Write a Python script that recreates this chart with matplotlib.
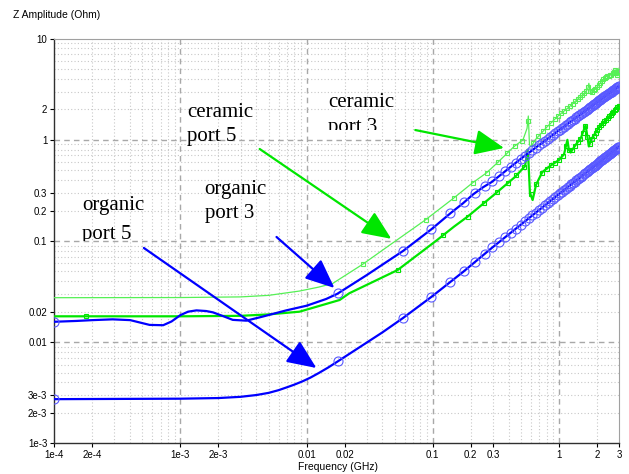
import numpy as np
import matplotlib
matplotlib.use("Agg")
import matplotlib.pyplot as plt
from matplotlib.transforms import Bbox, TransformedBbox

# ---- impedance data (frequency in GHz, |Z| in Ohm) ----
f_org5 = [1e-4, 1e-3, 2e-3, 3e-3, 4e-3, 5e-3, 6e-3, 7e-3, 8e-3, 9.3e-3,
          0.0107, 0.0125, 0.0148, 0.0175, 0.022, 0.03, 0.04, 0.0585, 0.098, 0.174,
          0.294, 0.5, 1.0, 2.0, 3.0]
z_org5 = [2.73e-3, 2.76e-3, 2.8e-3, 2.88e-3, 3.0e-3, 3.15e-3, 3.35e-3, 3.58e-3, 3.8e-3, 4.1e-3,
          4.45e-3, 4.95e-3, 5.6e-3, 6.4e-3, 7.7e-3, 9.9e-3, 0.0125, 0.0174, 0.0281, 0.0494,
          0.0853, 0.145, 0.29, 0.575, 0.86]

f_org3 = [1e-4, 1.5e-4, 2e-4, 2.9e-4, 4e-4, 5.7e-4, 7.3e-4, 8.5e-4, 1e-3, 1.15e-3,
          1.34e-3, 1.6e-3, 1.81e-3, 2.2e-3, 2.6e-3, 3.33e-3, 4.5e-3, 6.9e-3, 0.01, 0.0143,
          0.0175, 0.03, 0.0585, 0.098, 0.139, 0.174, 0.21, 0.251, 0.294, 0.5,
          1.0, 2.0, 3.0]
z_org3 = [0.0159, 0.0162, 0.0165, 0.0168, 0.0165, 0.0148, 0.0147, 0.0160, 0.0185, 0.0200,
          0.0206, 0.0203, 0.0197, 0.0180, 0.0166, 0.0163, 0.0179, 0.0206, 0.0229, 0.0267,
          0.030, 0.046, 0.080, 0.131, 0.189, 0.236, 0.29, 0.34, 0.383, 0.65,
          1.24, 2.35, 3.4]

f_cer5 = [1e-4, 1e-3, 3e-3, 5e-3, 8.8e-3, 0.0125, 0.0161, 0.0279, 0.045, 0.0866,
          0.146, 0.205, 0.268, 0.326, 0.441, 0.52, 0.56, 0.573, 0.585, 0.6,
          0.65, 0.81, 1.0, 1.2, 1.4, 1.6, 1.7, 1.73, 1.78, 2.0,
          2.34, 2.6, 2.8, 2.9, 3.0]
z_cer5 = [0.0275, 0.0276, 0.028, 0.029, 0.032, 0.035, 0.038, 0.0589, 0.09, 0.160,
          0.264, 0.372, 0.473, 0.594, 0.857, 1.0, 1.3, 1.72, 0.9, 0.85,
          1.0, 1.35, 1.75, 2.1, 2.5, 2.9, 3.2, 3.62, 2.9, 3.3,
          4.2, 4.4, 4.9, 4.3, 5.1]

f_cer3 = [1e-4, 1e-3, 3e-3, 5e-3, 8.8e-3, 0.0183, 0.0218, 0.0527, 0.106, 0.148,
          0.189, 0.3, 0.45, 0.54, 0.565, 0.575, 0.59, 0.62, 0.66, 0.74,
          0.85, 1.0, 1.1, 1.17, 1.2, 1.24, 1.35, 1.5, 1.63, 1.68,
          1.73, 1.8, 2.1, 2.5, 2.9, 3.0]
z_cer3 = [0.018, 0.018, 0.0182, 0.0188, 0.020, 0.0261, 0.0304, 0.0516, 0.100, 0.139,
          0.174, 0.28, 0.43, 0.55, 0.80, 0.60, 0.30, 0.254, 0.36, 0.48,
          0.55, 0.63, 0.72, 1.0, 0.8, 0.75, 0.88, 1.05, 1.4, 1.1,
          0.86, 1.0, 1.35, 1.7, 2.1, 2.2]

# marker sweep positions (GHz)
mk_blue = np.concatenate([[1e-4], np.arange(0.0178, 3.0, 0.04)])
mk_cer5 = np.arange(0.028, 3.0, 0.06)
mk_cer3 = np.concatenate([[1.8e-4], np.arange(0.053, 3.0, 0.068)])

# annotation labels: (lines, x, baselines, arrow start, arrow tip, colour, clip floor)
labels = [
    (["ceramic", "port 5"], 1.125e-3, [1.682, 0.974], (4.25e-3, 0.812), (0.047, 0.105), "#00e600", None),
    (["ceramic", "port 3"], 0.0149, [2.113, 1.196], (0.0728, 1.25), (0.368, 0.831), "#00e600", 1.2515),
    (["organic", "port 3"], 1.556e-3, [0.2915, 0.1688], (5.78e-3, 0.1096), (0.01663, 0.0343), "#0000ff", None),
    (["organic", "port 5"], 1.656e-4, [0.2025, 0.1058], (5.13e-4, 0.0853), (0.01197, 5.55e-3), "#0000ff", 0.1),
]

xticks = [1e-4, 2e-4, 1e-3, 2e-3, 0.01, 0.02, 0.1, 0.2, 0.3, 1, 2, 3]
xticklabels = ["1e-4", "2e-4", "1e-3", "2e-3", "0.01", "0.02", "0.1", "0.2", "0.3", "1", "2", "3"]
yticks = [1e-3, 2e-3, 3e-3, 0.01, 0.02, 0.1, 0.2, 0.3, 1, 2, 10]
yticklabels = ["1e-3", "2e-3", "3e-3", "0.01", "0.02", "0.1", "0.2", "0.3", "1", "2", "10"]

BLUE = "#0000ff"
BLUE_MK = "#5a5aff"
GREEN = "#00e600"
LGREEN = "#55f055"

plt.rcParams["font.family"] = ["Liberation Sans", "DejaVu Sans"]

fig = plt.figure(figsize=(6.29, 4.74), dpi=100)
ax = fig.add_axes([0.0863, 0.0648, 0.8978, 0.8536])
ax.set_xscale("log")
ax.set_yscale("log")
ax.set_xlim(1e-4, 3)
ax.set_ylim(1e-3, 10)

# grid: dashed at decades, dotted at 2..9
for d in [1e-4, 1e-3, 1e-2, 1e-1, 1]:
    for m in range(2, 10):
        v = d * m
        if v < 3:
            ax.axvline(v, color="#c8c8c8", lw=0.8, ls=(0, (1, 2)), zorder=0)
    if d > 1e-4:
        ax.axvline(d, color="#a8a8a8", lw=1.0, ls=(0, (4, 3)), zorder=0)
for d in [1e-3, 1e-2, 1e-1, 1]:
    for m in range(2, 10):
        ax.axhline(d * m, color="#c8c8c8", lw=0.8, ls=(0, (1, 2)), zorder=0)
    if d > 1e-3:
        ax.axhline(d, color="#a8a8a8", lw=1.0, ls=(0, (4, 3)), zorder=0)


def on_curve(fm, f, z):
    return np.exp(np.interp(np.log(fm), np.log(f), np.log(z)))


# curves
ax.plot(f_cer5, z_cer5, color=LGREEN, lw=0.9, zorder=3)
ax.plot(mk_cer5, on_curve(mk_cer5, f_cer5, z_cer5), ls="none", marker="s", ms=3.5,
        mfc="none", mec=LGREEN, mew=0.8, zorder=3)
ax.plot(f_cer3, z_cer3, color=GREEN, lw=1.6, zorder=3)
ax.plot(mk_cer3, on_curve(mk_cer3, f_cer3, z_cer3), ls="none", marker="s", ms=3.5,
        mfc="none", mec=GREEN, mew=0.8, zorder=3)
for f, z in [(f_org3, z_org3), (f_org5, z_org5)]:
    ax.plot(f, z, color=BLUE, lw=1.6, zorder=4)
    ax.plot(mk_blue, on_curve(mk_blue, f, z), ls="none", marker="o", ms=6.5,
            mfc="none", mec=BLUE_MK, mew=0.8, zorder=4)

# labels with arrows
for lines, x, bases, start, tip, col, floor in labels:
    for txt, yb in zip(lines, bases):
        t = ax.text(x, yb, txt, family=["Liberation Serif", "DejaVu Serif"], fontsize=15,
                    ha="left", va="baseline", color="black", zorder=5)
        if floor is not None:
            t.set_clip_box(TransformedBbox(Bbox([[1e-4, floor], [3, 10]]), ax.transData))
            t.set_clip_on(True)
    ax.annotate("", xy=tip, xytext=start,
                arrowprops=dict(arrowstyle="-|>,head_length=1.5,head_width=0.65",
                                color=col, lw=1.6, shrinkA=0, shrinkB=0,
                                mutation_scale=12),
                zorder=5)

ax.set_xticks(xticks)
ax.set_xticklabels(xticklabels)
ax.set_yticks(yticks)
ax.set_yticklabels(yticklabels)
ax.minorticks_off()
ax.tick_params(axis="both", which="major", length=3, width=0.8, labelsize=7,
               colors="black", pad=2)

for side in ["top", "right"]:
    ax.spines[side].set_color("#a0a0a0")
for side in ["left", "bottom"]:
    ax.spines[side].set_color("#303030")
    ax.spines[side].set_linewidth(1.0)

fig.text(0.0207, 0.968, "Z Amplitude (Ohm)", fontsize=7.5, va="center", ha="left")
fig.text(337.5 / 629, 1 - 467 / 474, "Frequency (GHz)", fontsize=7.5, va="center", ha="center")

fig.savefig("out.png", dpi=100)
